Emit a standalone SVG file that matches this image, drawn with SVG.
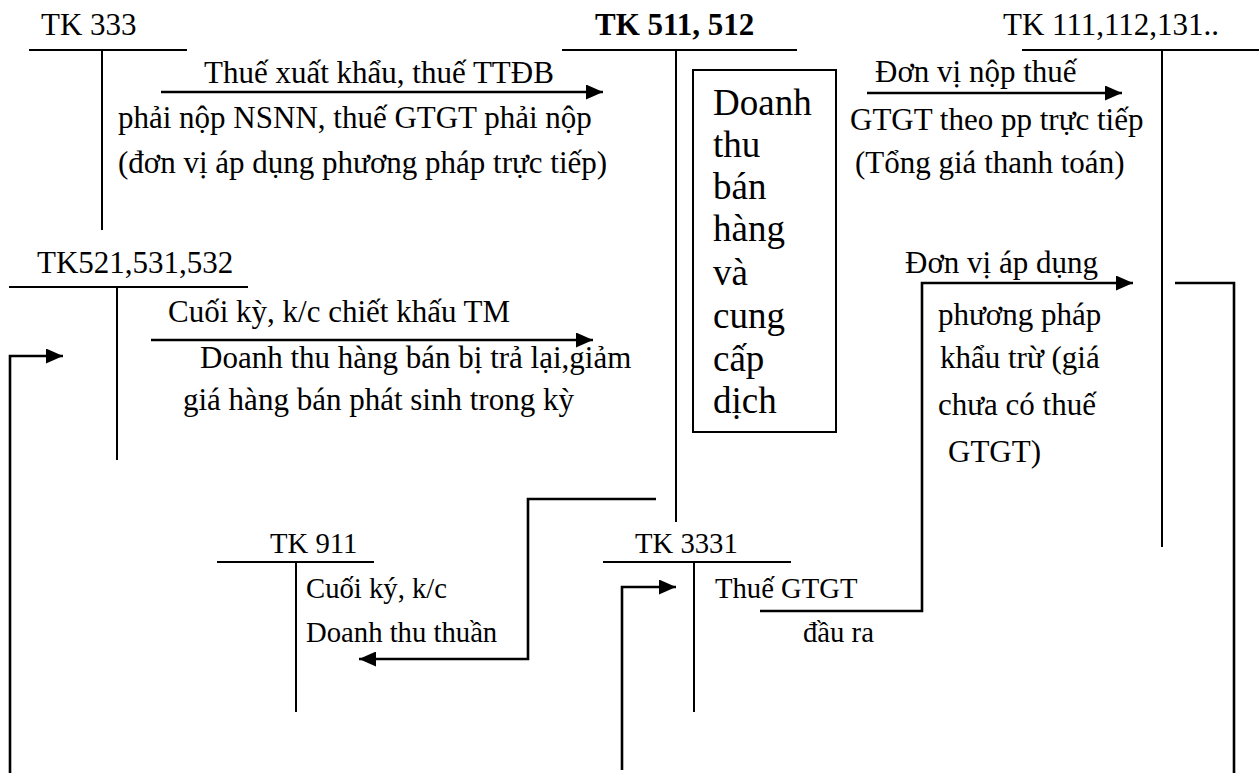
<svg xmlns="http://www.w3.org/2000/svg" width="1259" height="775" viewBox="0 0 1259 775">
<style>
text{font-family:"Liberation Serif","Times New Roman",serif;fill:#000;font-size:31px}
.s{font-size:28.7px}
.b{font-weight:bold}
.box{font-size:37px}
.ln{stroke:#000;stroke-width:2;fill:none}
.cn{stroke:#000;stroke-width:2.6;fill:none}
</style>
<defs>
<marker id="ah" markerUnits="userSpaceOnUse" markerWidth="17" markerHeight="15" refX="17" refY="7.5" orient="auto">
<path d="M0,0 L17,7.5 L0,15 z" fill="#000"/>
</marker>
</defs>
<rect width="1259" height="775" fill="#fff"/>
<g id="tk333">
<text x="41" y="35">TK 333</text>
<path class="ln" d="M29,50 H187 M102,50 V230"/>
</g>
<g id="tk511">
<text class="b" x="595" y="35">TK 511, 512</text>
<path class="ln" d="M562,50 H797 M676,50 V522"/>
</g>
<g id="tk111">
<text x="1003" y="35">TK 111,112,131..</text>
<path class="ln" d="M1022,50 H1259 M1162,50 V547"/>
</g>
<g id="tk521">
<text x="37" y="273">TK521,531,532</text>
<path class="ln" d="M9,287 H248 M117,287 V460"/>
</g>
<g id="tk911">
<text class="s" x="270" y="553">TK 911</text>
<path class="ln" d="M217,562 H374 M296,562 V712"/>
</g>
<g id="tk3331">
<text class="s" x="635" y="553">TK 3331</text>
<path class="ln" d="M603,562 H791 M694,562 V712"/>
</g>
<g id="doanhthu">
<rect class="ln" x="693" y="70" width="143" height="362"/>
<text class="box" x="713" y="115">Doanh</text>
<text class="box" x="713" y="157">thu</text>
<text class="box" x="713" y="199">bán</text>
<text class="box" x="713" y="241">hàng</text>
<text class="box" x="713" y="285">và</text>
<text class="box" x="713" y="328">cung</text>
<text class="box" x="713" y="371">cấp</text>
<text class="box" x="713" y="413">dịch</text>
</g>
<g id="connectors">
<path class="cn" d="M161,92 H603" marker-end="url(#ah)"/>
<path class="cn" d="M867,93 H1122" marker-end="url(#ah)"/>
<path class="cn" d="M151,340 H593" marker-end="url(#ah)"/>
<path class="cn" d="M10,773 V356 H63" marker-end="url(#ah)"/>
<path class="cn" d="M1234,773 V283 H1175"/>
<path class="cn" d="M656,499 H528 V659 H359" marker-end="url(#ah)"/>
<path class="cn" d="M760,611 H922 V283 H1133" marker-end="url(#ah)"/>
<path class="cn" d="M622,770 V587 H676" marker-end="url(#ah)"/>
</g>
<g id="labels">
<text x="204" y="83">Thuế xuất khẩu, thuế TTĐB</text>
<text x="118" y="128">phải nộp NSNN, thuế GTGT phải nộp</text>
<text x="118" y="173">(đơn vị áp dụng phương pháp trực tiếp)</text>
<text x="875" y="82">Đơn vị nộp thuế</text>
<text x="850" y="130">GTGT theo pp trực tiếp</text>
<text x="855" y="173">(Tổng giá thanh toán)</text>
<text x="168" y="322">Cuối kỳ, k/c chiết khấu TM</text>
<text x="200" y="368">Doanh thu hàng bán bị trả lại,giảm</text>
<text x="183" y="410">giá hàng bán phát sinh trong kỳ</text>
<text x="905" y="273">Đơn vị áp dụng</text>
<text x="938" y="325">phương pháp</text>
<text x="940" y="368">khẩu trừ (giá</text>
<text x="938" y="415">chưa có thuế</text>
<text x="948" y="462">GTGT)</text>
<text class="s" x="306" y="598">Cuối ký, k/c</text>
<text class="s" x="306" y="642">Doanh thu thuần</text>
<text class="s" x="715" y="598">Thuế GTGT</text>
<text class="s" x="803" y="642">đầu ra</text>
</g>
</svg>
